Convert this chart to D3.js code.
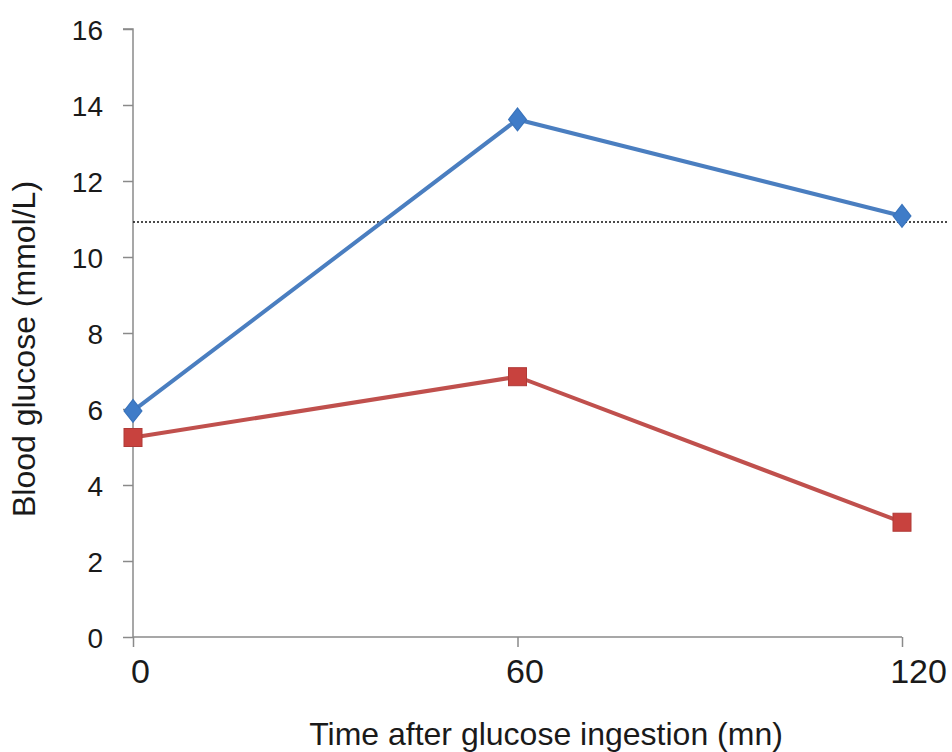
<!DOCTYPE html>
<html><head><meta charset="utf-8">
<script src="https://cdn.jsdelivr.net/npm/d3@7"></script>
<style>body{margin:0;background:#fff;} text{font-family:Arial,"Liberation Sans",sans-serif;fill:#1a1a1a;}</style>
</head><body>
<svg id="c" width="952" height="752"></svg>
<script>
const times = [0, 60, 120];
const blueValues = [5.95, 13.62, 11.08];
const redValues = [5.25, 6.85, 3.02];
const thresholdValue = 10.92;
const yTicks = [0, 2, 4, 6, 8, 10, 12, 14, 16];
const xTicks = [0, 60, 120];
const xTitle = "Time after glucose ingestion (mn)";
const yTitle = "Blood glucose (mmol/L)";

const svg = d3.select("#c");
const x = d3.scaleLinear().domain([0, 120]).range([133, 902]);
const y = d3.scaleLinear().domain([0, 16]).range([637, 29]);

// y axis
const ya = svg.append("g").attr("transform", `translate(${x(0)},0)`)
  .call(d3.axisLeft(y).tickValues(yTicks).tickSize(10).tickPadding(20).tickFormat(d3.format("d")));
ya.select(".domain").attr("stroke", "#8a8a8a").attr("stroke-width", 1.5).attr("d", `M-10,${y(16)}H0V${y(0)}`);
ya.selectAll(".tick line").attr("stroke", "#8a8a8a").attr("stroke-width", 1.5);
ya.selectAll(".tick text").style("font-size", "28px").attr("fill", "#1a1a1a").attr("dy", "0.36em");

// x axis
const xa = svg.append("g").attr("transform", `translate(0,${y(0)})`)
  .call(d3.axisBottom(x).tickValues(xTicks).tickSize(10).tickPadding(12).tickFormat(d3.format("d")));
xa.select(".domain").attr("stroke", "#8a8a8a").attr("stroke-width", 1.5).attr("d", `M${x(0)},0H${x(120)}`);
xa.selectAll(".tick line").attr("stroke", "#8a8a8a").attr("stroke-width", 1.5);
xa.selectAll(".tick text").style("font-size", "34px").attr("fill", "#1a1a1a").attr("dx", (d) => d === 120 ? 16 : 7);

// threshold dotted line
svg.append("line")
  .attr("x1", x(0)).attr("x2", 948)
  .attr("y1", y(thresholdValue)).attr("y2", y(thresholdValue))
  .attr("stroke", "#111").attr("stroke-width", 1.5).attr("stroke-dasharray", "2,2");

const line = d3.line().x((d, i) => x(times[i])).y(d => y(d));

svg.append("path").datum(redValues).attr("d", line)
  .attr("fill", "none").attr("stroke", "#C0504D").attr("stroke-width", 4);
svg.append("path").datum(blueValues).attr("d", line)
  .attr("fill", "none").attr("stroke", "#4A7EC0").attr("stroke-width", 4);

svg.selectAll(".sq").data(redValues).enter().append("rect")
  .attr("x", (d, i) => x(times[i]) - 9).attr("y", d => y(d) - 9)
  .attr("width", 18).attr("height", 18)
  .attr("fill", "#C8423E").attr("stroke", "#B03A37").attr("stroke-width", 1);

const diamond = d3.symbol().type(d3.symbolDiamond).size(150);
svg.selectAll(".dm").data(blueValues).enter().append("path")
  .attr("d", diamond)
  .attr("transform", (d, i) => `translate(${x(times[i])},${y(d)}) scale(1.35,1)`)
  .attr("fill", "#3F7CC8").attr("stroke", "#3A74BC").attr("stroke-width", 1);

svg.append("text").attr("x", 546).attr("y", 745).attr("text-anchor", "middle")
  .style("font-size", "32px").text(xTitle);
svg.append("text").attr("transform", "translate(35,349) rotate(-90)").attr("text-anchor", "middle")
  .style("font-size", "32px").text(yTitle);
</script>
</body></html>
